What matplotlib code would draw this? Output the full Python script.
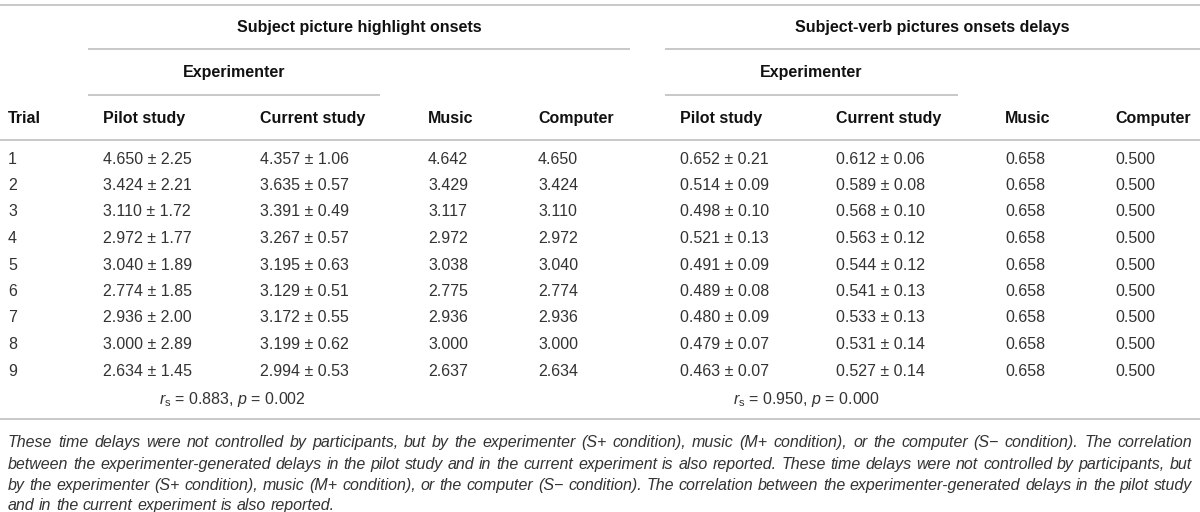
import matplotlib
matplotlib.use("Agg")
import matplotlib.pyplot as plt

plt.rcParams['font.family'] = ['Liberation Sans', 'DejaVu Sans']
plt.rcParams['mathtext.fontset'] = 'custom'
plt.rcParams['mathtext.rm'] = 'Liberation Sans'
plt.rcParams['mathtext.it'] = 'Liberation Sans:italic'

# ---- table data ----
trials = ["1", "2", "3", "4", "5", "6", "7", "8", "9"]

subj_pilot = ["4.650 ± 2.25", "3.424 ± 2.21", "3.110 ± 1.72", "2.972 ± 1.77", "3.040 ± 1.89",
              "2.774 ± 1.85", "2.936 ± 2.00", "3.000 ± 2.89", "2.634 ± 1.45"]
subj_current = ["4.357 ± 1.06", "3.635 ± 0.57", "3.391 ± 0.49", "3.267 ± 0.57", "3.195 ± 0.63",
                "3.129 ± 0.51", "3.172 ± 0.55", "3.199 ± 0.62", "2.994 ± 0.53"]
subj_music = ["4.642", "3.429", "3.117", "2.972", "3.038", "2.775", "2.936", "3.000", "2.637"]
subj_computer = ["4.650", "3.424", "3.110", "2.972", "3.040", "2.774", "2.936", "3.000", "2.634"]

verb_pilot = ["0.652 ± 0.21", "0.514 ± 0.09", "0.498 ± 0.10", "0.521 ± 0.13", "0.491 ± 0.09",
              "0.489 ± 0.08", "0.480 ± 0.09", "0.479 ± 0.07", "0.463 ± 0.07"]
verb_current = ["0.612 ± 0.06", "0.589 ± 0.08", "0.568 ± 0.10", "0.563 ± 0.12", "0.544 ± 0.12",
                "0.541 ± 0.13", "0.533 ± 0.13", "0.531 ± 0.14", "0.527 ± 0.14"]
verb_music = ["0.658"] * 9
verb_computer = ["0.500"] * 9

group_titles = ["Subject picture highlight onsets", "Subject-verb pictures onsets delays"]
col_titles = ["Trial", "Pilot study", "Current study", "Music", "Computer",
              "Pilot study", "Current study", "Music", "Computer"]
corr_texts = [r"$r_\mathrm{s}$ = 0.883, $p$ = 0.002", r"$r_\mathrm{s}$ = 0.950, $p$ = 0.000"]

footnote_lines = [
    "These time delays were not controlled by participants, but by the experimenter (S+ condition), music (M+ condition), or the computer (S\u2212 condition). The correlation",
    "between the experimenter-generated delays in the pilot study and in the current experiment is also reported. These time delays were not controlled by participants, but",
    "by the experimenter (S+ condition), music (M+ condition), or the computer (S\u2212 condition). The correlation between the experimenter-generated delays in the pilot study",
    "and in the current experiment is also reported.",
]

columns = [trials, subj_pilot, subj_current, subj_music, subj_computer,
           verb_pilot, verb_current, verb_music, verb_computer]

# ---- layout (pixels, y measured from top) ----
W, H = 1200, 512
col_x = [8, 103, 260, 428, 538, 680, 836, 1005, 1115]
row0_y, row_dy = 163.5, 26.5   # baselines
line_col = "#c4c4c4"
body_col = "#333333"
head_col = "#111111"
fs = 11.5

fig = plt.figure(figsize=(12, 5.12), dpi=100)
ax = fig.add_axes([0, 0, 1, 1])
ax.set_xlim(0, W)
ax.set_ylim(H, 0)
ax.axis("off")

def hline(y, x0, x1):
    ax.plot([x0, x1], [y, y], color=line_col, lw=1.3, solid_capstyle="butt")

hline(5, 0, W)
hline(49, 88, 630)
hline(49, 665, W)
hline(95, 88, 380)
hline(95, 665, 958)
hline(140, 0, W)
hline(419, 0, W)

bold = dict(ha="center", va="baseline", fontsize=fs, fontweight="bold", color=head_col)
ax.text(359, 32, group_titles[0], **bold)
ax.text(932, 32, group_titles[1], **bold)
ax.text(234, 77, "Experimenter", **bold)
ax.text(811, 77, "Experimenter", **bold)

for x, t in zip(col_x, col_titles):
    ax.text(x, 123, t, ha="left", va="baseline", fontsize=fs, fontweight="bold", color=head_col)

for x, vals in zip(col_x, columns):
    for i, v in enumerate(vals):
        ax.text(x, row0_y + i * row_dy, v, ha="left", va="baseline", fontsize=fs, color=body_col)

ax.text(232, 404, corr_texts[0], ha="center", va="baseline", fontsize=fs, color=body_col)
ax.text(807, 404, corr_texts[1], ha="center", va="baseline", fontsize=fs, color=body_col)

# ---- justified italic footnote ----
fig.canvas.draw()
renderer = fig.canvas.get_renderer()
x_left, x_right = 8, 1192

# pick the size so the widest full line just fills the text width
probe_fs = 11
widest = 0
for line in footnote_lines[:-1]:
    t = ax.text(0, 0, line, fontsize=probe_fs, style="italic")
    widest = max(widest, t.get_window_extent(renderer).width)
    t.remove()
foot_fs = probe_fs * (x_right - x_left) / widest * 0.995

foot_y = [447, 469, 490, 510]
for li, (line, y) in enumerate(zip(footnote_lines, foot_y)):
    words = line.split(" ")
    arts = [ax.text(0, y, w, ha="left", va="baseline", fontsize=foot_fs, style="italic", color=body_col)
            for w in words]
    widths = [a.get_window_extent(renderer).width for a in arts]
    space = ax.text(0, 0, "a a", fontsize=foot_fs, style="italic")
    a_only = ax.text(0, 0, "aa", fontsize=foot_fs, style="italic")
    sp = space.get_window_extent(renderer).width - a_only.get_window_extent(renderer).width
    space.remove()
    a_only.remove()
    if li == len(footnote_lines) - 1:
        gap = sp
    else:
        gap = (x_right - x_left - sum(widths)) / (len(words) - 1)
    x = x_left
    for a, w in zip(arts, widths):
        a.set_x(x)
        x += w + gap

fig.savefig("out.png", dpi=100)
